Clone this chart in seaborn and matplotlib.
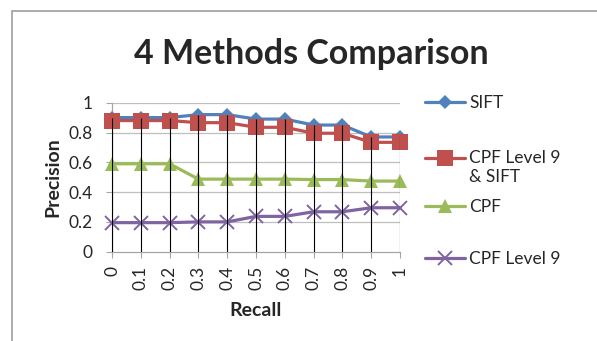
import matplotlib
matplotlib.use("Agg")
import matplotlib.pyplot as plt
import seaborn as sns
import pandas as pd
import numpy as np
from matplotlib.patches import Rectangle
from matplotlib.legend_handler import HandlerLine2D

recall = [0, 0.1, 0.2, 0.3, 0.4, 0.5, 0.6, 0.7, 0.8, 0.9, 1]
recall_labels = ["0", "0.1", "0.2", "0.3", "0.4", "0.5", "0.6", "0.7", "0.8", "0.9", "1"]
sift = [0.90, 0.90, 0.90, 0.92, 0.92, 0.89, 0.89, 0.85, 0.85, 0.77, 0.77]
cpf9_sift = [0.88, 0.88, 0.88, 0.866, 0.866, 0.835, 0.835, 0.795, 0.795, 0.734, 0.734]
cpf = [0.59, 0.59, 0.59, 0.487, 0.487, 0.487, 0.487, 0.484, 0.484, 0.474, 0.474]
cpf9 = [0.195, 0.195, 0.195, 0.20, 0.20, 0.237, 0.237, 0.268, 0.268, 0.295, 0.295]
methods = ["SIFT", "CPF Level 9\n& SIFT", "CPF", "CPF Level 9"]
colors = ["#4F81BD", "#C0504D", "#9BBB59", "#8064A2"]
marker_list = ["D", "s", "^", "x"]
marker_sizes = [7.5, 11, 10.5, 9.5]

series = [sift, cpf9_sift, cpf, cpf9]

sns.set_style("white")
plt.rcParams["font.family"] = ["Lato", "DejaVu Sans"]

W, H = 597, 341
fig = plt.figure(figsize=(W / 100, H / 100), dpi=100)
ax = fig.add_axes([112 / W, 1 - 251.7 / H, (400 - 112) / W, (251.7 - 102.7) / H])

for name, vals, col, mk, ms in zip(methods, series, colors, marker_list, marker_sizes):
    d = pd.DataFrame({"Recall": recall, "Precision": vals})
    kw = dict(markeredgewidth=1.4, markeredgecolor=col) if mk == "x" else dict(markeredgewidth=0)
    sns.lineplot(data=d, x="Recall", y="Precision", color=col, marker=mk, markersize=ms,
                 linewidth=2.3, label=name, ax=ax, zorder=3, clip_on=False, **kw)

# drop lines from highest point to axis
tops = np.max(np.array(series), axis=0)
ax.vlines(recall, 0, tops, colors="black", linewidth=0.8, zorder=5)

ax.set_xlim(0, 1)
ax.set_ylim(0, 1)
ax.set_yticks([0, 0.2, 0.4, 0.6, 0.8, 1])
ax.set_yticklabels(["0", "0.2", "0.4", "0.6", "0.8", "1"])
ax.set_xticks(recall)
ax.set_xticklabels(recall_labels, rotation=90)
for y in [0.2, 0.4, 0.6, 0.8, 1.0]:
    ax.axhline(y, color="#bfbfbf", linewidth=0.9, zorder=1)
for s in ["top", "right"]:
    ax.spines[s].set_visible(False)
for s in ["left", "bottom"]:
    ax.spines[s].set_color("#a6a6a6")
    ax.spines[s].set_linewidth(0.9)
ax.tick_params(axis="y", length=4, color="#a6a6a6", labelsize=12.5, pad=10, left=True)
ax.tick_params(axis="x", length=4, color="#a6a6a6", labelsize=12.5, pad=6, bottom=True)
ax.set_xlabel("Recall", fontsize=14, fontweight="bold", labelpad=9)
ax.set_ylabel("Precision", fontsize=14, fontweight="bold", labelpad=5)


class UpHandler(HandlerLine2D):
    def create_artists(self, legend, orig_handle, xdescent, ydescent, width, height,
                       fontsize, trans):
        arts = super().create_artists(legend, orig_handle, xdescent, ydescent, width,
                                      height, fontsize, trans)
        for a in arts:
            a.set_ydata(np.asarray(a.get_ydata()) + 0.6 * fontsize)
        return arts


handles, labels = ax.get_legend_handles_labels()
ax.get_legend().remove()
legend_y = [103, 167.5, 207, 259]
for h, lab, yy in zip(handles, labels, legend_y):
    hm = {h: UpHandler()} if "\n" in lab else None
    lg = fig.legend([h], [lab], loc="center left", bbox_to_anchor=(425 / W, 1 - yy / H),
                    frameon=False, fontsize=12.5, handlelength=2.3, handletextpad=0.25,
                    borderaxespad=0, borderpad=0, handler_map=hm)

fig.text(311 / W, 1 - 54 / H, "4 Methods Comparison", fontsize=24.5, fontweight="bold",
         ha="center", va="center")

fig.patches.append(Rectangle((12 / W, -0.1), 1.2, 1 - 11 / H + 0.1, transform=fig.transFigure,
                             fill=False, edgecolor="#a6a6a6", linewidth=1.3))

fig.savefig("out.png", dpi=100)
